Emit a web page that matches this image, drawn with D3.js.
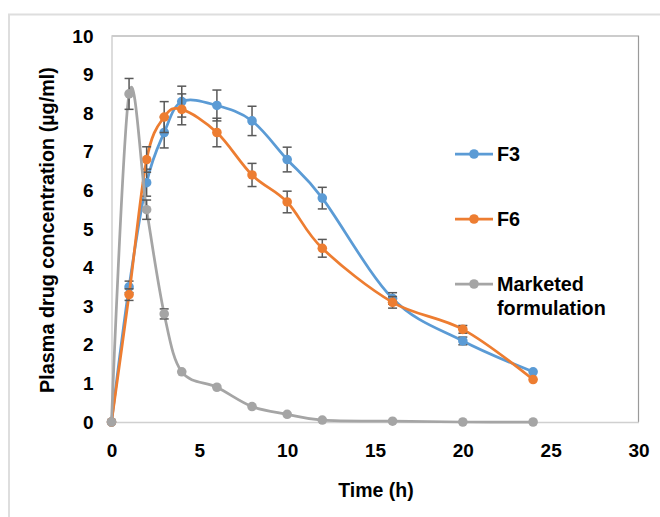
<!DOCTYPE html>
<html>
<head>
<meta charset="utf-8">
<script src="https://cdn.jsdelivr.net/npm/d3@7"></script>
<style>
  html, body { margin: 0; padding: 0; background: #fff; }
  svg { display: block; }
  text { font-family: "Liberation Sans", Arial, sans-serif; font-weight: bold; fill: #000; }
</style>
</head>
<body>
<svg id="chart" width="660" height="517"></svg>
<script>
// ---- data ----
const times = [0, 1, 2, 3, 4, 6, 8, 10, 12, 16, 20, 24];
const f3 = [0, 3.5, 6.2, 7.5, 8.3, 8.2, 7.8, 6.8, 5.8, 3.2, 2.1, 1.3];
const f3Err = [0, 0.15, 0.35, 0.4, 0.4, 0.4, 0.38, 0.32, 0.28, 0.15, 0.1, 0];
const f6 = [0, 3.3, 6.8, 7.9, 8.1, 7.5, 6.4, 5.7, 4.5, 3.1, 2.4, 1.1];
const f6Err = [0, 0.15, 0.33, 0.4, 0.4, 0.37, 0.3, 0.28, 0.23, 0.15, 0.1, 0];
const marketed = [0, 8.5, 5.5, 2.8, 1.3, 0.9, 0.4, 0.2, 0.05, 0.02, 0, 0];
const marketedErr = [0, 0.4, 0.25, 0.13, 0, 0, 0, 0, 0, 0, 0, 0];
const seriesNames = ["F3", "F6", "Marketed formulation"];
const xTicks = [0, 5, 10, 15, 20, 25, 30];
const yTicks = [0, 1, 2, 3, 4, 5, 6, 7, 8, 9, 10];

const series = [
  { name: seriesNames[0], values: f3, err: f3Err, color: "#5B9BD5" },
  { name: seriesNames[1], values: f6, err: f6Err, color: "#ED7D31" },
  { name: seriesNames[2], values: marketed, err: marketedErr, color: "#A5A5A5" }
];

const svg = d3.select("#chart");

// outer frame
svg.append("rect").attr("x", 9).attr("y", 14.5).attr("width", 660).attr("height", 520)
  .attr("fill", "none").attr("stroke", "#dedede").attr("stroke-width", 2);

const x = d3.scaleLinear().domain([0, 30]).range([111.5, 638.5]);
const y = d3.scaleLinear().domain([0, 10]).range([422, 36]);

// plot frame (top & right)
svg.append("path")
  .attr("d", `M${x(0)},${y(10)}H${x(30)}V${y(0)}`)
  .attr("fill", "none").attr("stroke", "#9a9a9a").attr("stroke-width", 1.2);

// axes
const xAxis = svg.append("g").attr("transform", `translate(0,${y(0)})`)
  .call(d3.axisBottom(x).tickValues(xTicks).tickSize(0).tickPadding(22).tickFormat(d3.format("d")));
const yAxis = svg.append("g").attr("transform", `translate(${x(0)},0)`)
  .call(d3.axisLeft(y).tickValues(yTicks).tickSize(0).tickPadding(18).tickFormat(d3.format("d")));
[xAxis, yAxis].forEach(g => {
  g.select(".domain").attr("stroke", "#d0d0d0").attr("stroke-width", 1.5);
  g.selectAll("text").style("font-size", "19px").style("font-family", "'Liberation Sans', Arial, sans-serif").style("font-weight", "bold").attr("fill", "#000");
});

// axis titles
svg.append("text").attr("x", 376).attr("y", 497).attr("text-anchor", "middle")
  .style("font-size", "19.5px").text("Time (h)");
svg.append("text").attr("transform", "translate(54,230) rotate(-90)").attr("text-anchor", "middle")
  .style("font-size", "19.8px").text("Plasma drug concentration (µg/ml)");

const line = d3.line()
  .x((d, i) => x(times[i]))
  .y(d => y(d))
  .curve(d3.curveCardinal.tension(0));

series.forEach(s => {
  const g = svg.append("g");
  g.append("path").datum(s.values).attr("d", line)
    .attr("fill", "none").attr("stroke", s.color).attr("stroke-width", 2.75);
  // error bars
  const eb = g.append("g").attr("stroke", "#595959").attr("stroke-width", 1.5);
  s.values.forEach((v, i) => {
    const e = s.err[i];
    if (!e) return;
    const cx = x(times[i]);
    eb.append("line").attr("x1", cx).attr("x2", cx).attr("y1", y(v + e)).attr("y2", y(v - e));
    eb.append("line").attr("x1", cx - 4.5).attr("x2", cx + 4.5).attr("y1", y(v + e)).attr("y2", y(v + e));
    eb.append("line").attr("x1", cx - 4.5).attr("x2", cx + 4.5).attr("y1", y(v - e)).attr("y2", y(v - e));
  });
  g.selectAll("circle").data(s.values).join("circle")
    .attr("cx", (d, i) => x(times[i])).attr("cy", d => y(d)).attr("r", 4.8)
    .attr("fill", s.color);
});

// legend
const legendY = [154, 219, 284];
series.forEach((s, i) => {
  const g = svg.append("g").attr("transform", `translate(0,${legendY[i]})`);
  g.append("line").attr("x1", 455).attr("x2", 493).attr("y1", 0).attr("y2", 0)
    .attr("stroke", s.color).attr("stroke-width", 2.75);
  g.append("circle").attr("cx", 474).attr("cy", 0).attr("r", 4.8).attr("fill", s.color);
  const t = g.append("text").attr("x", 497).attr("y", 7).style("font-size", "19.8px");
  if (i === 2) {
    t.append("tspan").attr("x", 497).attr("y", 7).text("Marketed");
    t.append("tspan").attr("x", 497).attr("y", 30.5).text("formulation");
  } else {
    t.text(s.name);
  }
});
</script>
</body>
</html>
